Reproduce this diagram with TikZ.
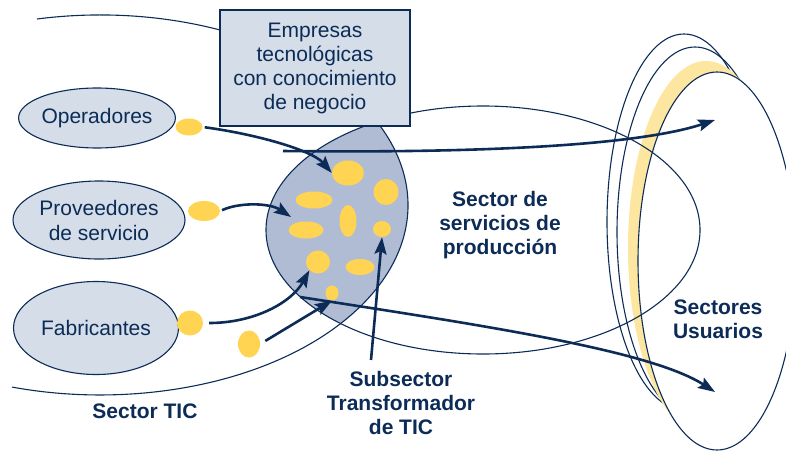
\documentclass[tikz,border=0pt]{standalone}
\usepackage{fontspec}
\setmainfont{Liberation Sans}
\usetikzlibrary{arrows.meta,shapes,positioning}

\definecolor{navy}{HTML}{0C2C57}
\definecolor{paleblue}{HTML}{D4DDE8}
\definecolor{lensblue}{HTML}{AFBCD4}
\definecolor{blobyellow}{HTML}{FFD452}
\definecolor{bandyellow}{HTML}{FDE6A0}

\begin{document}
\begin{tikzpicture}[
        x=1pt, y=-1pt,
        thinline/.style={draw=navy, line width=1.1pt},
        flow/.style={draw=navy, line width=2.6pt, -{Stealth[length=17pt,width=12pt,inset=3pt]}},
        actor/.style={ellipse, draw=navy, line width=1.1pt, fill=paleblue, text=navy, inner sep=0pt, align=center, font=\fontsize{21}{25}\selectfont},
        blob/.style={ellipse, fill=blobyellow, inner sep=0pt},
        tbox/.style={rectangle, draw=navy, line width=1.1pt, fill=paleblue, text=navy, align=center, minimum width=190pt, minimum height=116pt, font=\fontsize{21}{24}\selectfont},
        sectorlabel/.style={text=navy, align=center, inner sep=0pt, font=\bfseries\fontsize{21}{24}\selectfont}
    ]
    \useasboundingbox (0,0) rectangle (786,452);

    % Sectores usuarios
    \draw[thinline] (684,222) ellipse [x radius=77, y radius=188];
    \draw[thinline] (695,232) ellipse [x radius=78, y radius=185];
    \fill[bandyellow] (706,248) ellipse [x radius=78, y radius=187];
    \draw[thinline, fill=white] (717,261) ellipse [x radius=79, y radius=189];

    % Subsector (interseccion)
    \begin{scope}
      \clip (483,230) ellipse [x radius=217, y radius=124];
      \fill[lensblue] (100,205) ellipse [x radius=308, y radius=190];
    \end{scope}
    \draw[thinline] (37,19) arc [start angle=-101.8, end angle=106.6, x radius=308, y radius=190];
    \draw[thinline] (483,230) ellipse [x radius=217, y radius=124];

    % Nodes
      \node[actor, minimum width=150pt, minimum height=60pt] (oper) at (97,118) {Operadores};
      \node[actor, minimum width=172pt, minimum height=78pt] (prov) at (99,220) {Proveedores\\de servicio};
      \node[actor, minimum width=165pt, minimum height=93pt] (fabr) at (96,328) {Fabricantes};

      \node[blob, minimum width=27pt, minimum height=17pt] (bOper) at (189,127) {};
      \node[blob, minimum width=32pt, minimum height=20pt] (bProv) at (204,211) {};
      \node[blob, minimum width=26pt, minimum height=25pt] (bFabr) at (190,323) {};
      \node[blob, minimum width=22pt, minimum height=27pt] (bOtro) at (249,344) {};

      \node[blob, minimum width=32pt, minimum height=25pt] (l1) at (348,173) {};
      \node[blob, minimum width=25pt, minimum height=26pt] (l2) at (386,192) {};
      \node[blob, minimum width=37pt, minimum height=17pt] (l3) at (314,200) {};
      \node[blob, minimum width=17pt, minimum height=32pt] (l4) at (348,221) {};
      \node[blob, minimum width=35pt, minimum height=17pt] (l5) at (306,230) {};
      \node[blob, minimum width=18pt, minimum height=16pt] (l6) at (382,229) {};
      \node[blob, minimum width=24pt, minimum height=23pt] (l7) at (318,262) {};
      \node[blob, minimum width=29pt, minimum height=16pt] (l8) at (360,267) {};
      \node[blob, minimum width=13pt, minimum height=15pt] (l9) at (332,293) {};

      \node[tbox] (empresas) at (315,68) {Empresas\\tecnológicas\\con conocimiento\\de negocio};

      \node[sectorlabel] (servicios) at (500,225) {Sector de\\servicios de\\producción};
      \node[sectorlabel] (usuarios) at (718,319) {Sectores\\Usuarios};
      \node[sectorlabel] (subsector) at (401,403) {Subsector\\Transformador\\de TIC};
      \node[sectorlabel] (tic) at (145,411) {Sector TIC};

      \coordinate (altoIni) at (283,151);
      \coordinate (altoFin) at (715,120);
      \coordinate (bajoIni) at (300,297);
      \coordinate (bajoFin) at (715,392);
      \coordinate (provFin) at (291,217);
      \coordinate (subIni) at (371,360);

    \draw[flow, shorten <=2pt] (bOper.east) .. controls (255,134) and (312,150) .. (l1.west);
    \draw[flow, shorten <=2pt] (bProv.east) .. controls (240,202) and (270,203) .. (provFin);
    \draw[flow, shorten <=6pt] (bFabr.east) .. controls (255,323) and (292,302) .. (l7.south west);
    \draw[flow, shorten <=6pt] (bOtro.east) -- (l9.south);
    \draw[flow] (subIni) -- (l6.south);

    \draw[flow] (altoIni) .. controls (450,153) and (630,148) .. (altoFin);
    \draw[flow] (bajoIni) .. controls (480,325) and (650,350) .. (bajoFin);

\end{tikzpicture}
\end{document}
